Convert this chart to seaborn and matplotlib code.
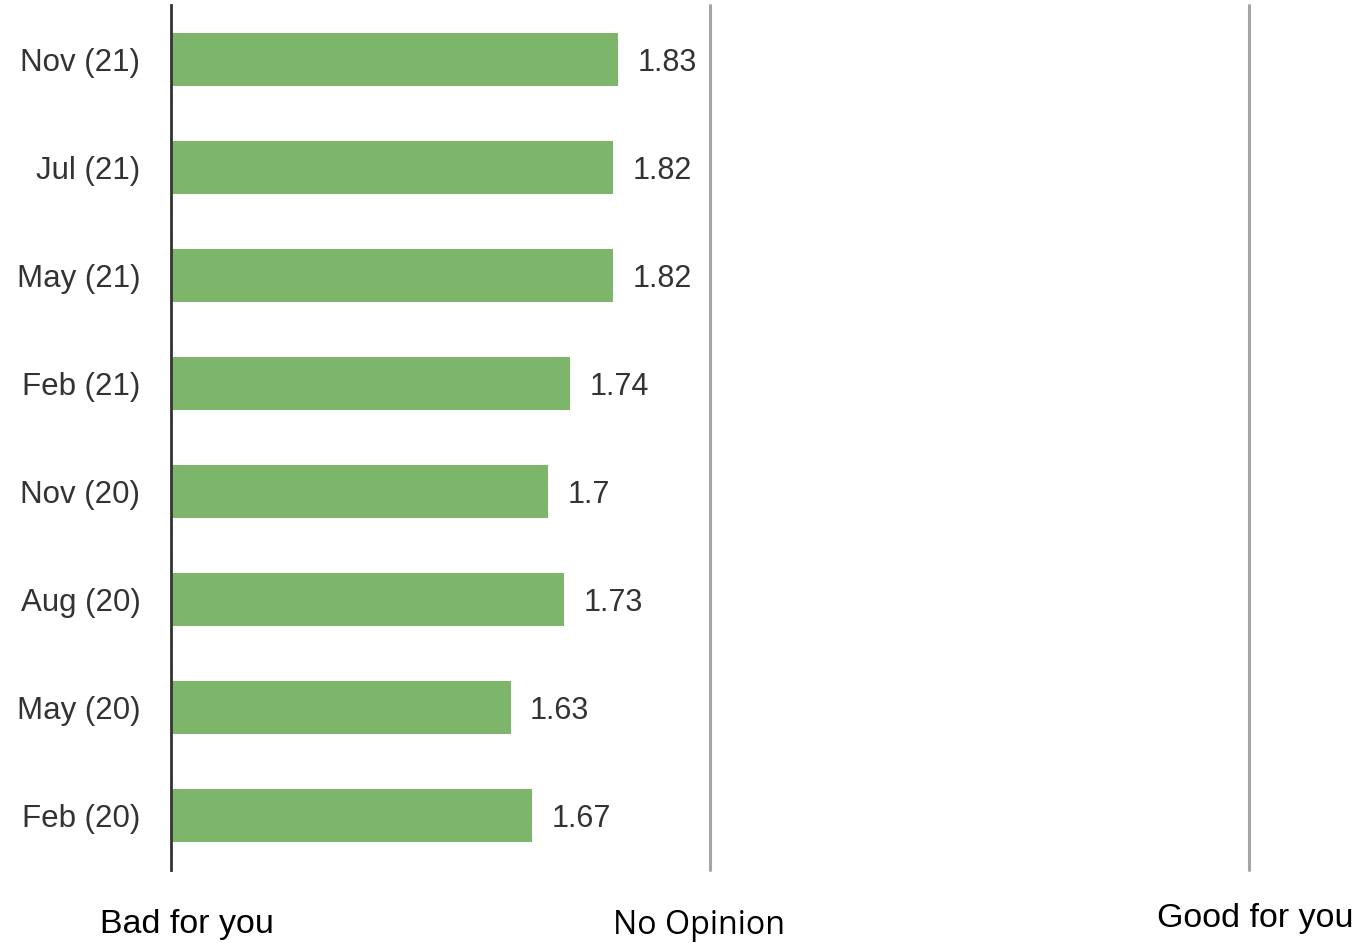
import matplotlib
matplotlib.use("Agg")
import matplotlib.pyplot as plt
import seaborn as sns
import pandas as pd

categories = ["Nov (21)", "Jul (21)", "May (21)", "Feb (21)",
              "Nov (20)", "Aug (20)", "May (20)", "Feb (20)"]
values = [1.83, 1.82, 1.82, 1.74, 1.7, 1.73, 1.63, 1.67]
value_labels = ["1.83", "1.82", "1.82", "1.74", "1.7", "1.73", "1.63", "1.67"]
scale_positions = [1, 2, 3]
scale_labels = ["Bad for you", "No Opinion", "Good for you"]

sns.set_theme(style="white")
plt.rcParams['font.family'] = ['Liberation Sans', 'DejaVu Sans']

df = pd.DataFrame({"period": categories, "score": values})

fig = plt.figure(figsize=(13.69, 9.43), dpi=100)
ax = fig.add_axes([171/1369, 1 - 870/943, (1249 - 171)/1369, 865/943])

sns.barplot(data=df, x="score", y="period", orient="h", color="#7db66a",
            saturation=1, width=0.49, ax=ax, edgecolor="none")

ax.set_xlim(1, 3)
ax.set_ylim(7.5, -0.5)

for p in scale_positions[1:]:
    ax.axvline(p, color="#a6a6a6", lw=2.2, zorder=0, clip_on=False)

for s in ["top", "right", "bottom"]:
    ax.spines[s].set_visible(False)
ax.spines["left"].set_color("#333333")
ax.spines["left"].set_linewidth(2)

ax.set_xticks([])
ax.set_xlabel("")
ax.set_ylabel("")
ax.tick_params(axis="y", length=0, pad=22, labelsize=22.5, labelcolor="#333333")

for i, (v, lab) in enumerate(zip(values, value_labels)):
    ax.annotate(lab, xy=(v, i), xytext=(14, -2.5), textcoords="offset points",
                ha="left", va="center", fontsize=22, color="#333333")

label_px = [(187, 924), (699, 925), (1255, 919)]
fonts = ['Liberation Sans', 'Open Sans', 'Liberation Sans']
sizes = [24.5, 23.2, 24.5]
for (px, py), lab, fam, fs in zip(label_px, scale_labels, fonts, sizes):
    fig.text(px/1369, 1 - py/943, lab, ha="center", va="center",
             fontsize=fs, color="black", family=[fam, 'DejaVu Sans'])

fig.savefig("out.png", dpi=100)
